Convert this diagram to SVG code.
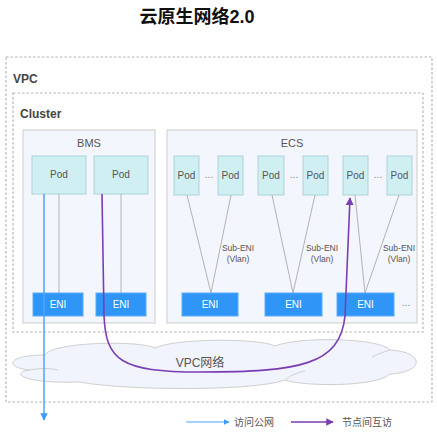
<svg xmlns="http://www.w3.org/2000/svg" width="437" height="438" viewBox="0 0 437 438">
<defs>
<style>
.dash{fill:none;stroke:#b5b5b5;stroke-width:1.2;stroke-dasharray:2.5 2}
.host{fill:#f4f6fd;stroke:#cccccc;stroke-width:1}
.pod{fill:#d0eff3;stroke:#a9d3da;stroke-width:1}
.eni{fill:#2f96f7;stroke:#5aacf7;stroke-width:1}
.t{font-family:"Liberation Sans","Noto Sans CJK SC",sans-serif;}
.pt{font-size:10px;fill:#555;text-anchor:middle}
.et{font-size:10px;fill:#ffffff;text-anchor:middle}
.st{font-size:8.5px;fill:#555;text-anchor:middle}
.gl{stroke:#b3b3b3;stroke-width:1;fill:none}
.dots{font-size:10px;fill:#888;text-anchor:middle}
</style>
<marker id="ab" viewBox="0 0 10 10" refX="9" refY="5" markerWidth="5" markerHeight="5" orient="auto"><path d="M0,0 L10,5 L0,10 z" fill="#3d9bff"/></marker>
<marker id="ap" viewBox="0 0 10 10" refX="9" refY="5" markerWidth="5" markerHeight="5" orient="auto"><path d="M0,0 L10,5 L0,10 z" fill="#7a3db3"/></marker>
</defs>
<rect width="437" height="438" fill="#ffffff"/>
<text class="t" x="197" y="23" font-size="18" font-weight="bold" fill="#111" text-anchor="middle">云原生网络2.0</text>

<g id="vpc">
<rect class="dash" x="6" y="57" width="426" height="345"/>
<text class="t" x="13" y="83" font-size="12" font-weight="bold" fill="#444">VPC</text>
</g>
<g id="cluster">
<rect class="dash" x="13" y="93" width="410" height="239"/>
<text class="t" x="20" y="118" font-size="12" font-weight="bold" fill="#444">Cluster</text>
</g>

<g id="cloud">
<path d="M30,370 C5,368 5,355 45,355 C50,342 140,340 155,348 C175,338 260,338 275,346 C300,336 380,338 390,350 C425,352 425,372 390,374 C375,388 300,386 285,380 C250,392 120,390 80,382 C20,384 10,372 30,370 Z" fill="#f1f4fc" stroke="#cfcfcf" stroke-width="1"/>
<path d="M30,370 C40,368 50,368 58,370 M390,350 C383,352 376,355 372,357 M285,380 C290,375 300,372 305,371" fill="none" stroke="#d0d0d0" stroke-width="1"/>
<text class="t" x="200" y="367" font-size="12" fill="#555" text-anchor="middle">VPC网络</text>
</g>

<g id="bms">
<rect class="host" x="23" y="130" width="132" height="193"/>
<text class="t" x="89" y="147" font-size="11" fill="#555" text-anchor="middle">BMS</text>
</g>
<g id="bms-pod1"><rect class="pod" x="32" y="156" width="54" height="38"/><text class="t pt" x="59" y="178">Pod</text></g>
<g id="bms-pod2"><rect class="pod" x="94" y="156" width="54" height="38"/><text class="t pt" x="121" y="178">Pod</text></g>

<g id="ecs">
<rect class="host" x="167" y="130" width="250" height="193"/>
<text class="t" x="292" y="147" font-size="11" fill="#555" text-anchor="middle">ECS</text>
</g>
<g id="ecs-pod1"><rect class="pod" x="174" y="156" width="25" height="39"/><text class="t pt" x="186.5" y="179">Pod</text></g>
<g id="ecs-pod2"><rect class="pod" x="218" y="156" width="25" height="39"/><text class="t pt" x="230.5" y="179">Pod</text></g>
<g id="ecs-pod3"><rect class="pod" x="258" y="156" width="26" height="39"/><text class="t pt" x="271" y="179">Pod</text></g>
<g id="ecs-pod4"><rect class="pod" x="303" y="156" width="25" height="39"/><text class="t pt" x="315.5" y="179">Pod</text></g>
<g id="ecs-pod5"><rect class="pod" x="343" y="156" width="25" height="39"/><text class="t pt" x="355.5" y="179">Pod</text></g>
<g id="ecs-pod6"><rect class="pod" x="387" y="156" width="25" height="39"/><text class="t pt" x="399.5" y="179">Pod</text></g>
<g id="dots">
<text class="t dots" x="209" y="178">...</text>
<text class="t dots" x="294" y="178">...</text>
<text class="t dots" x="378" y="178">...</text>
<text class="t dots" x="406" y="306">...</text>
</g>

<g id="connectors">
<line class="gl" x1="59" y1="194" x2="59" y2="293"/>
<line class="gl" x1="121" y1="194" x2="121" y2="293"/>
<line class="gl" x1="187" y1="195" x2="211" y2="293"/>
<line class="gl" x1="231" y1="195" x2="211" y2="293"/>
<line class="gl" x1="272" y1="195" x2="293" y2="293"/>
<line class="gl" x1="315" y1="195" x2="293" y2="293"/>
<line class="gl" x1="355" y1="195" x2="365" y2="293"/>
<line class="gl" x1="399" y1="195" x2="365" y2="293"/>
<text class="t st" x="238" y="251">Sub-ENI</text><text class="t st" x="238" y="262">(Vlan)</text>
<text class="t st" x="322" y="251">Sub-ENI</text><text class="t st" x="322" y="262">(Vlan)</text>
<text class="t st" x="399" y="251">Sub-ENI</text><text class="t st" x="399" y="262">(Vlan)</text>
</g>

<g id="bms-eni1"><rect class="eni" x="33" y="293" width="50" height="23"/><text class="t et" x="58" y="308">ENI</text></g>
<g id="bms-eni2"><rect class="eni" x="96" y="293" width="50" height="23"/><text class="t et" x="121" y="308">ENI</text></g>
<g id="ecs-eni1"><rect class="eni" x="182" y="293" width="56" height="23"/><text class="t et" x="210" y="308">ENI</text></g>
<g id="ecs-eni2"><rect class="eni" x="265" y="293" width="57" height="23"/><text class="t et" x="293.5" y="308">ENI</text></g>
<g id="ecs-eni3"><rect class="eni" x="337" y="293" width="57" height="23"/><text class="t et" x="365.5" y="308">ENI</text></g>

<g id="flows">
<line x1="44" y1="194" x2="44" y2="420" stroke="#4da3ff" stroke-width="1.5" marker-end="url(#ab)"/>
<path d="M102,194 L104,316 C106,360 120,372 200,372 C300,372 340,365 345,316 L350,198" fill="none" stroke="#7a3db3" stroke-width="1.6" marker-end="url(#ap)"/>
</g>

<g id="legend">
<line x1="186" y1="422" x2="229" y2="422" stroke="#4da3ff" stroke-width="1.2" marker-end="url(#ab)"/>
<text class="t" x="234" y="425.5" font-size="10" fill="#555">访问公网</text>
<line x1="291" y1="422" x2="333" y2="422" stroke="#7a3db3" stroke-width="1.5" marker-end="url(#ap)"/>
<text class="t" x="342" y="425.5" font-size="10" fill="#555">节点间互访</text>
</g>
</svg>
